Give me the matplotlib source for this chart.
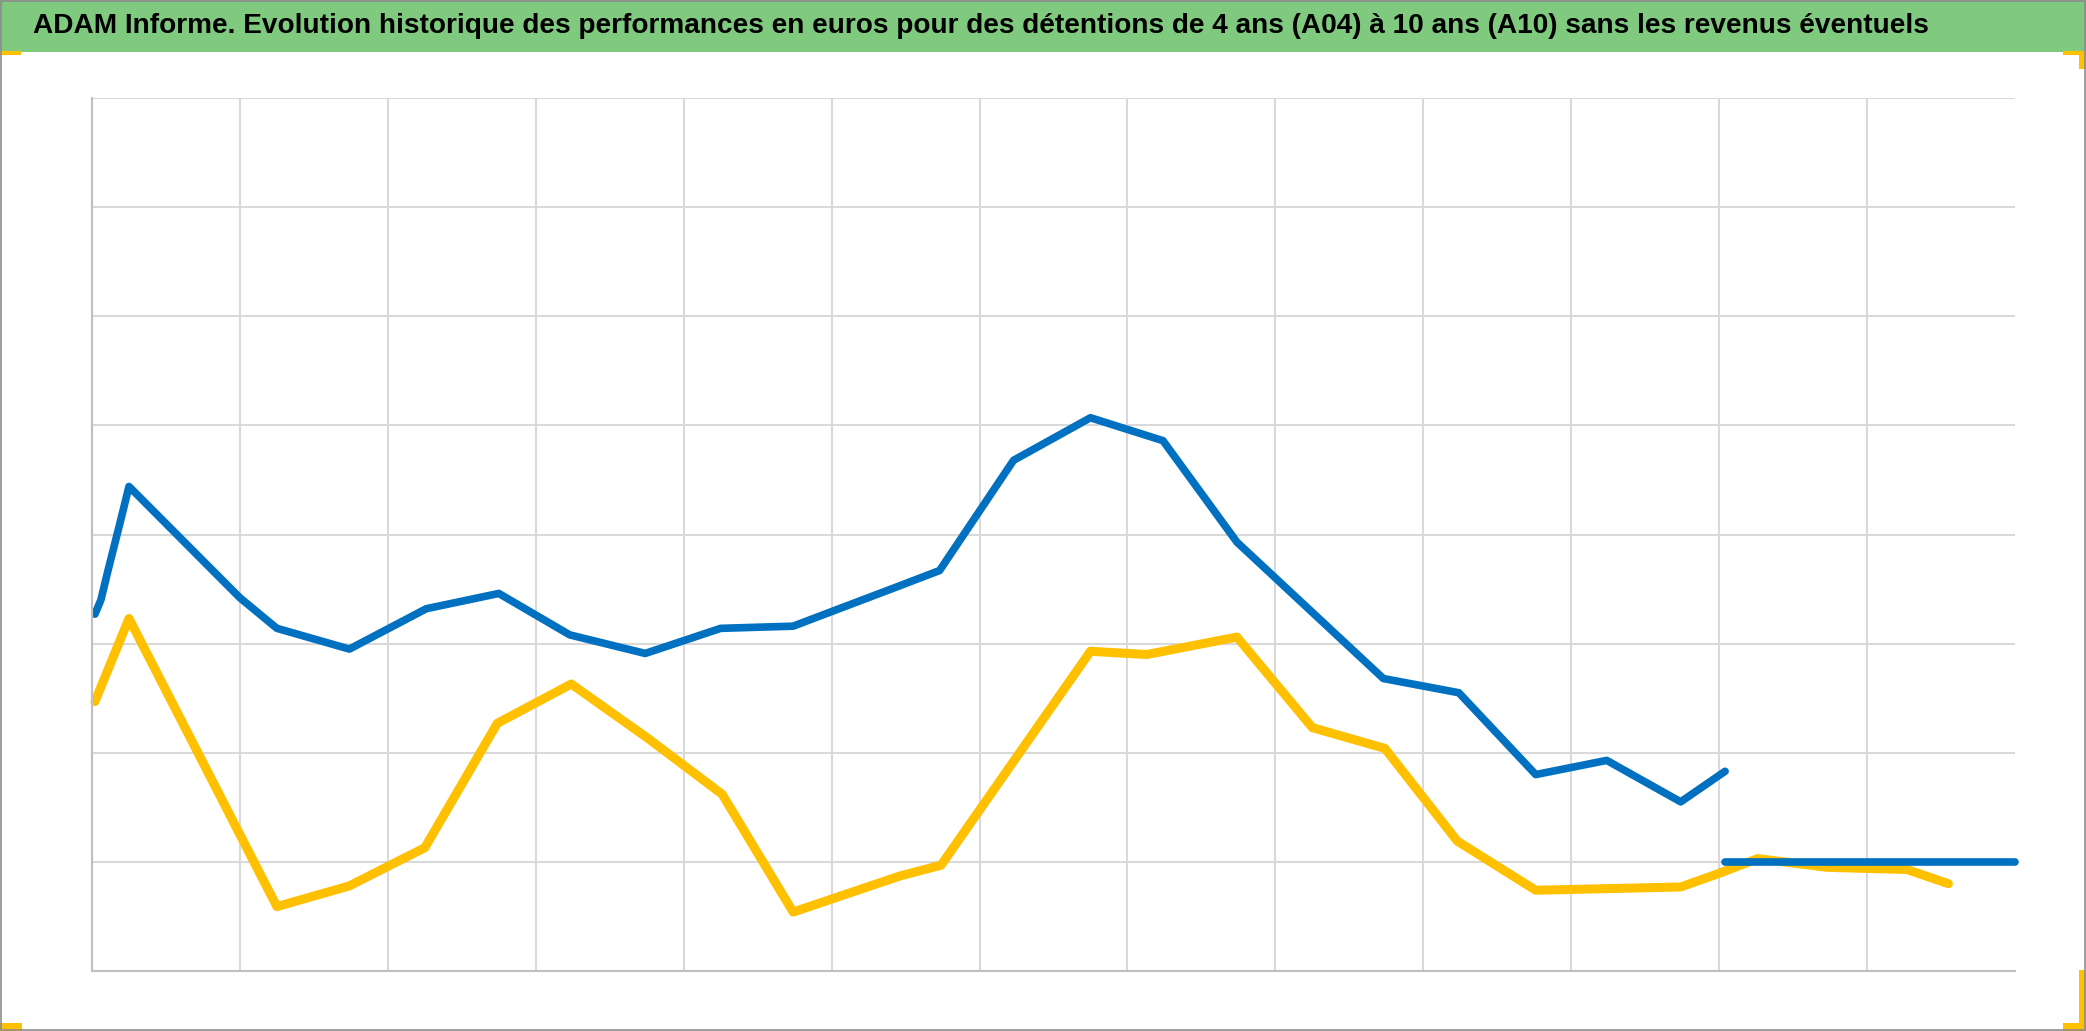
import matplotlib
matplotlib.use("Agg")
import matplotlib.pyplot as plt
from matplotlib.patches import Rectangle

# positions along the time axis (one grid column = one unit), values in grid units
a04_x = [0.02, 0.06, 0.11, 0.19, 0.25, 1.00, 1.25, 1.74, 2.26, 2.75, 3.23, 3.74,
         4.25, 4.74, 5.46, 5.73, 6.23, 6.75, 7.24, 7.74, 8.73, 9.24, 9.76, 10.24,
         10.74, 11.04]
a04_y = [3.27, 3.40, 3.68, 4.11, 4.44, 3.42, 3.14, 2.95, 3.32, 3.46, 3.08, 2.91,
         3.14, 3.16, 3.53, 3.67, 4.68, 5.07, 4.86, 3.93, 2.68, 2.55, 1.80, 1.93,
         1.55, 1.83]
a04_flat_x = [11.04, 13.0]
a04_flat_y = [1.0, 1.0]

a10_x = [0.02, 0.25, 1.25, 1.74, 2.25, 2.74, 3.24, 3.75, 4.26, 4.74, 5.46, 5.74,
         6.75, 7.13, 7.74, 8.25, 8.74, 9.23, 9.76, 10.74, 11.01, 11.26, 11.73,
         12.27, 12.55]
a10_y = [2.47, 3.23, 0.59, 0.78, 1.13, 2.27, 2.63, 2.14, 1.62, 0.54, 0.87, 0.97,
         2.93, 2.90, 3.06, 2.23, 2.04, 1.19, 0.74, 0.77, 0.90, 1.03, 0.95,
         0.93, 0.80]

title = ("ADAM Informe. Evolution historique des performances en euros pour des "
         "détentions de 4 ans (A04) à 10 ans (A10) sans les revenus éventuels")

W, H = 2086, 1031
fig = plt.figure(figsize=(W / 100, H / 100), dpi=100)

# title bar
fig.patches.append(Rectangle((0, 1 - 52 / H), 1, 52 / H, transform=fig.transFigure,
                             facecolor="#7FCA7F", edgecolor="none", zorder=0))
fig.text(33 / W, 1 - 26 / H, title, fontsize=20.2, fontweight="bold",
         family=["Liberation Sans", "DejaVu Sans"], va="center", ha="left")

# yellow corner marks and outer frame
gold = "#FFC000"
marks = [(0, 51, 21, 4), (2063, 51, 23, 4), (2079, 51, 7, 18),
         (0, 1023, 22, 8), (2063, 1023, 23, 8), (2079, 970, 7, 61)]
for x0, y0, w, h in marks:
    fig.patches.append(Rectangle((x0 / W, 1 - (y0 + h) / H), w / W, h / H,
                                 transform=fig.transFigure, facecolor=gold,
                                 edgecolor="none", zorder=1))
fig.patches.append(Rectangle((0.0005, 0.0005), 0.999, 0.999, transform=fig.transFigure,
                             facecolor="none", edgecolor="#8C8C8C", linewidth=1.2, zorder=2))

ax = fig.add_axes([92 / W, 1 - 971 / H, (2015 - 92) / W, (971 - 98) / H])
ax.set_xlim(0, 13)
ax.set_ylim(0, 8)
ax.set_xticks(range(0, 13))
ax.set_yticks(range(0, 9))
ax.grid(True, color="#D9D9D9", linewidth=1.5)
ax.set_axisbelow(True)
ax.tick_params(length=0, labelleft=False, labelbottom=False)
for side in ["top", "right"]:
    ax.spines[side].set_visible(False)
for side in ["left", "bottom"]:
    ax.spines[side].set_color("#BFBFBF")
    ax.spines[side].set_linewidth(1.5)

ax.plot(a10_x, a10_y, color=gold, linewidth=6.5, solid_joinstyle="round",
        solid_capstyle="round", clip_on=False)
ax.plot(a04_x, a04_y, color="#0070C0", linewidth=5.5, solid_joinstyle="round",
        solid_capstyle="round", clip_on=False)
ax.plot(a04_flat_x, a04_flat_y, color="#0070C0", linewidth=5.5, solid_capstyle="round",
        clip_on=False)

fig.savefig("out.png", dpi=100)
